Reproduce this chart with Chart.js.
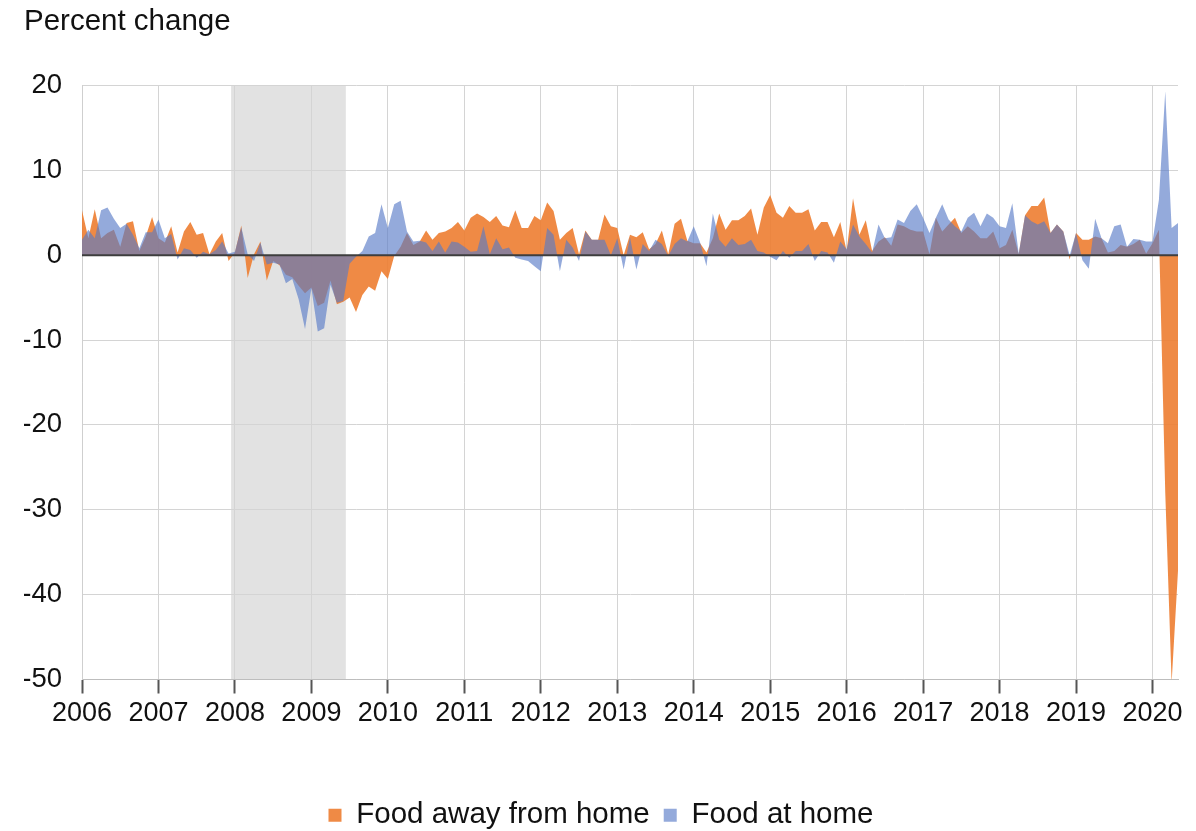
<!DOCTYPE html>
<html>
<head>
<meta charset="utf-8">
<script src="https://cdn.jsdelivr.net/npm/chart.js@4.4.1/dist/chart.umd.min.js"></script>
<style>
  html, body { margin: 0; padding: 0; background: #ffffff; }
  #wrap { width: 1196px; height: 831px; position: relative; }
</style>
</head>
<body>
<div id="wrap"><canvas id="c"></canvas></div>
<script>
// ---- Data (monthly, Jan 2006 - May 2020) ----
const startYear = 2006;
const yearTicks = [2006, 2007, 2008, 2009, 2010, 2011, 2012, 2013, 2014, 2015, 2016, 2017, 2018, 2019, 2020];
const yTicks = [20, 10, 0, -10, -20, -30, -40, -50];
const recessionStart = 2007.95;   // Dec 2007
const recessionEnd = 2009.45;     // Jun 2009
const seriesNames = ['Food away from home', 'Food at home'];

const foodAwayFromHome = [
  5.3, 2.0, 5.4, 2.0, 2.6, 3.0, 1.0, 3.8, 4.0, 0.5, 2.2, 4.5,
  2.0, 1.5, 3.4, 0.3, 2.8, 3.9, 2.4, 2.6, 0.1, 1.6, 2.6, -0.7,
  0.3, 3.5, -2.7, 0.1, 1.6, -3.0, -0.7, -1.2, -2.3, -2.6, -3.6, -4.5,
  -3.8, -6.0, -5.6, -3.0, -5.8, -5.5, -5.0, -6.7, -4.7, -3.7, -4.2, -1.9,
  -2.8, -0.1, 1.0, 2.6, 1.2, 1.6, 2.9, 1.8, 2.6, 2.8, 3.2, 3.9,
  2.9, 4.4, 4.9, 4.5, 3.9, 4.6, 3.5, 3.3, 5.3, 3.2, 3.2, 4.6,
  4.1, 6.2, 5.2, 1.8, 2.6, 3.2, 0.1, 2.9, 1.8, 1.8, 4.8, 3.4,
  3.2, 0.0, 2.4, 2.1, 2.7, 0.7, 1.3, 2.9, 0.1, 3.7, 4.3, 1.7,
  1.4, 1.4, 0.3, 2.0, 4.9, 3.0, 4.1, 4.1, 4.6, 5.5, 2.4, 5.6,
  7.1, 5.0, 4.4, 5.8, 5.0, 5.0, 5.4, 2.9, 3.9, 3.9, 2.1, 3.9,
  0.5, 6.7, 2.4, 4.1, 0.5, 1.6, 2.1, 1.1, 3.6, 3.4, 3.0, 2.8,
  2.8, 0.1, 4.4, 2.8, 3.6, 4.4, 2.6, 3.4, 2.8, 2.0, 2.0, 2.8,
  0.8, 1.2, 3.0, 0.1, 4.7, 5.8, 5.8, 6.8, 2.6, 3.6, 2.8, -0.5,
  2.6, 1.8, 1.8, 2.2, 2.0, 0.3, 0.5, 1.2, 1.0, 1.3, 1.8, 0.2,
  1.4, 3.0, -28.0, -50.4, -37.2
];

const foodAtHome = [
  1.8, 3.0, 2.0, 5.3, 5.6, 4.3, 3.2, 3.7, 2.4, 0.8, 2.7, 2.7,
  4.2, 2.0, 2.5, -0.5, 0.8, 0.6, -0.3, 0.4, 0.1, 0.6, 1.6, 0.2,
  0.4, 3.3, 0.1, -0.7, 1.5, -1.1, -0.9, -1.1, -3.3, -2.8, -5.2, -8.7,
  -3.9, -9.0, -8.6, -3.5, -5.6, -5.4, -1.0, -0.2, 0.5, 2.2, 2.6, 6.0,
  3.2, 6.0, 6.4, 2.8, 1.6, 1.7, 1.5, 0.5, 1.6, 0.3, 1.6, 1.5,
  1.0, 0.4, 0.5, 3.4, 0.1, 2.0, 0.7, 0.9, -0.3, -0.5, -0.7, -1.3,
  -1.9, 3.2, 2.4, -1.9, 1.8, 0.9, -0.7, 2.8, 1.8, 1.8, 1.8, 0.0,
  2.0, -1.7, 2.1, -1.7, 1.3, 0.5, 1.8, 1.3, -0.1, 1.3, 2.0, 1.6,
  3.4, 1.5, -1.3, 4.9, 1.8, 1.0, 2.0, 1.2, 1.3, 1.8, 0.5, 0.3,
  -0.2, -0.6, 0.5, -0.3, 0.5, 0.5, 1.3, -0.7, 0.5, 0.3, -0.9, 1.6,
  0.7, 3.6, 2.2, 1.3, 0.3, 3.6, 2.0, 2.1, 4.2, 3.8, 5.2, 6.0,
  4.4, 2.6, 4.4, 6.0, 4.2, 3.4, 2.8, 4.4, 5.0, 3.4, 4.9, 4.4,
  3.4, 3.2, 6.1, 0.2, 4.7, 4.0, 3.6, 4.0, 2.6, 3.6, 2.8, 0.0,
  2.6, -0.6, -1.6, 4.3, 2.0, 1.4, 3.4, 3.6, 1.0, 1.9, 1.8, 1.6,
  1.6, 6.5, 19.3, 3.2, 3.8
];

// month positions (decimal years) for each observation
const monthX = foodAtHome.map((_, i) => startYear + i / 12);
const toPoints = arr => arr.map((v, i) => ({ x: monthX[i], y: v }));

const FONT = "'Liberation Sans', Arial, Helvetica, sans-serif";

const recessionPlugin = {
  id: 'recession',
  beforeDraw(chart) {
    const { ctx, chartArea, scales } = chart;
    const x0 = scales.x.getPixelForValue(recessionStart);
    const x1 = scales.x.getPixelForValue(recessionEnd);
    ctx.save();
    ctx.fillStyle = '#e2e2e2';
    ctx.fillRect(x0, chartArea.top, x1 - x0, chartArea.bottom - chartArea.top);
    ctx.restore();
  }
};

const zeroLinePlugin = {
  id: 'zeroLine',
  afterDatasetsDraw(chart) {
    const { ctx, chartArea, scales } = chart;
    const y = scales.y.getPixelForValue(0);
    ctx.save();
    ctx.strokeStyle = '#3e3e3e';
    ctx.lineWidth = 2;
    ctx.beginPath();
    ctx.moveTo(chartArea.left, y);
    ctx.lineTo(chartArea.right, y);
    ctx.stroke();
    ctx.restore();
  }
};

new Chart(document.getElementById('c'), {
  type: 'line',
  data: {
    datasets: [
      {
        label: seriesNames[0],
        data: toPoints(foodAwayFromHome),
        backgroundColor: 'rgba(237,125,49,0.9)',
        borderWidth: 0,
        pointRadius: 0,
        fill: 'origin',
        tension: 0,
        order: 2
      },
      {
        label: seriesNames[1],
        data: toPoints(foodAtHome),
        backgroundColor: 'rgba(88,122,198,0.64)',
        borderWidth: 0,
        pointRadius: 0,
        fill: 'origin',
        tension: 0,
        order: 1
      }
    ]
  },
  options: {
    responsive: true,
    maintainAspectRatio: false,
    animation: false,
    layout: { padding: { left: 24, right: 18, top: 4, bottom: -9 } },
    plugins: {
      title: {
        display: true,
        text: 'Percent change',
        align: 'start',
        color: '#111',
        font: { family: FONT, size: 29.5, weight: 'normal' },
        padding: { top: 0, bottom: 46 }
      },
      legend: {
        position: 'bottom',
        labels: {
          color: '#111',
          font: { family: FONT, size: 29.5 },
          boxWidth: 13,
          boxHeight: 13,
          padding: 14,
          sort: (a, b) => a.datasetIndex - b.datasetIndex
        }
      },
      tooltip: { enabled: false }
    },
    scales: {
      x: {
        type: 'linear',
        min: startYear,
        max: monthX[monthX.length - 1],
        afterBuildTicks: s => { s.ticks = yearTicks.map(v => ({ value: v })); },
        afterFit: s => { s.height = 107; },
        ticks: {
          color: '#111',
          font: { family: FONT, size: 27 },
          padding: 4,
          maxRotation: 0,
          autoSkip: false,
          callback: v => String(v)
        },
        grid: {
          color: '#d4d4d4',
          lineWidth: 1,
          drawTicks: true,
          tickLength: 14,
          tickColor: '#555',
          tickWidth: 2
        },
        border: { display: true, color: '#bdbdbd', width: 1 }
      },
      y: {
        type: 'linear',
        min: -50,
        max: 20,
        afterBuildTicks: s => { s.ticks = yTicks.map(v => ({ value: v })); },
        afterFit: s => { s.width = 58; },
        ticks: {
          color: '#111',
          font: { family: FONT, size: 27.5 },
          padding: 20,
          callback: v => String(v)
        },
        grid: {
          color: '#d4d4d4',
          lineWidth: 1,
          drawTicks: false
        },
        border: { display: true, color: '#cfcfcf', width: 1 }
      }
    }
  },
  plugins: [recessionPlugin, zeroLinePlugin]
});
</script>
</body>
</html>
